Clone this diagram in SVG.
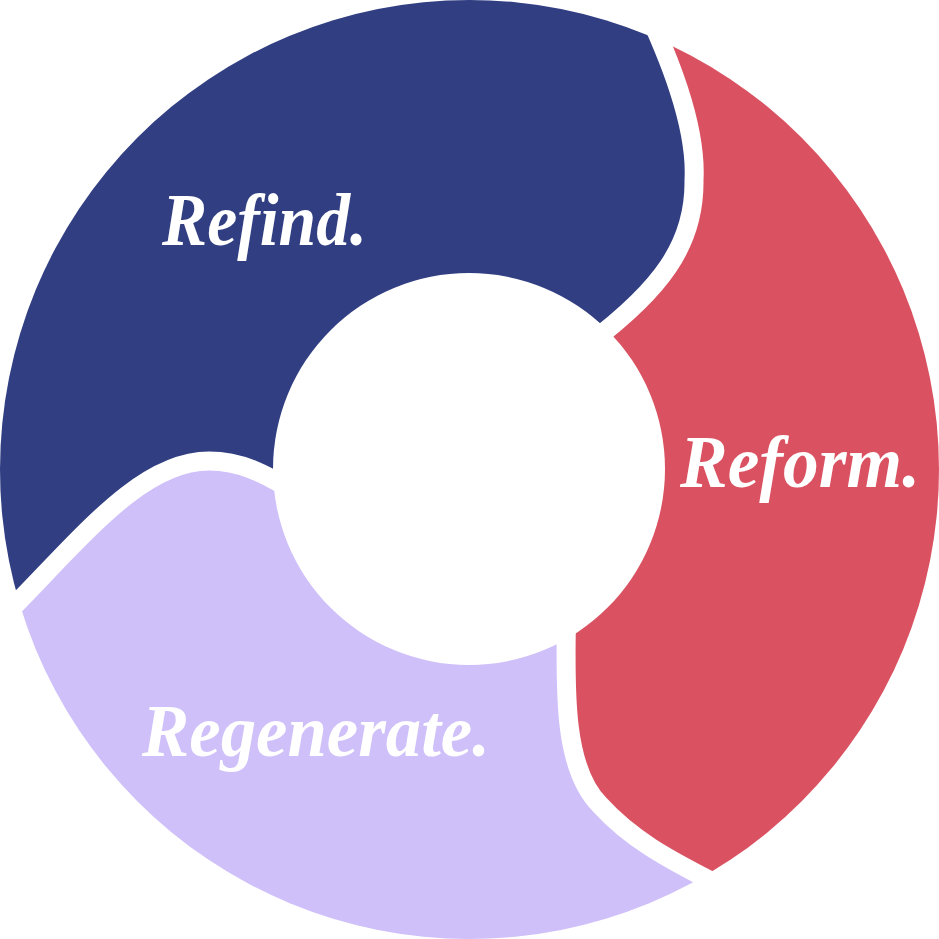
<svg xmlns="http://www.w3.org/2000/svg" width="939" height="939" viewBox="0 0 939 939">
  <defs>
    <clipPath id="ring">
      <circle cx="469.5" cy="469.5" r="469.5"/>
    </clipPath>
    <style>
      .sep { fill: none; stroke: #FFFFFF; stroke-width: 19; }
    </style>
  </defs>
  <rect width="939" height="939" fill="#FFFFFF"/>
  <g clip-path="url(#ring)">
    <g id="refind">
      <path fill="#313F82" d="M469,469 L300,495 C262,472 240,461 209,461 C140,461 80,540 5,615 L-300,700 L-300,-200 L620,-200 L642,0 C668,55 697,125 694,180 C695,245 660,290 590,343 Z"/>
    </g>
    <g id="reform">
      <path fill="#DA5261" d="M469,469 L590,343 C660,290 695,245 694,180 C697,125 668,55 642,0 L660,-200 L1200,-200 L1200,1200 L725,888 C665,858 630,838 600,805 C565,770 564,700 567,600 Z"/>
    </g>
    <g id="regenerate">
      <path fill="#CFC0FA" d="M469,469 L567,600 C564,700 565,770 600,805 C630,838 665,858 725,888 L800,1300 L-300,1300 L-300,700 L5,615 C80,540 140,461 209,461 C240,461 262,472 300,495 Z"/>
    </g>
  </g>
  <g id="separators">
    <path class="sep" d="M642,0 C668,55 697,125 694,180 C695,245 660,290 590,343"/>
    <path class="sep" d="M567,600 C564,700 565,770 600,805 C630,838 665,858 725,888"/>
    <path class="sep" d="M5,615 C80,540 140,461 209,461 C240,461 262,472 300,495"/>
  </g>
  <circle id="hole" cx="469" cy="469" r="196" fill="#FFFFFF"/>
  <g id="labels" font-family="'Liberation Serif', 'DejaVu Serif', serif" font-weight="700" font-style="italic" font-size="73" fill="#FFFFFF">
    <text x="162" y="245" textLength="205" lengthAdjust="spacingAndGlyphs">Refind.</text>
    <text x="680" y="487" textLength="240" lengthAdjust="spacingAndGlyphs">Reform.</text>
    <text x="142" y="756" textLength="348" lengthAdjust="spacingAndGlyphs">Regenerate.</text>
  </g>
</svg>
